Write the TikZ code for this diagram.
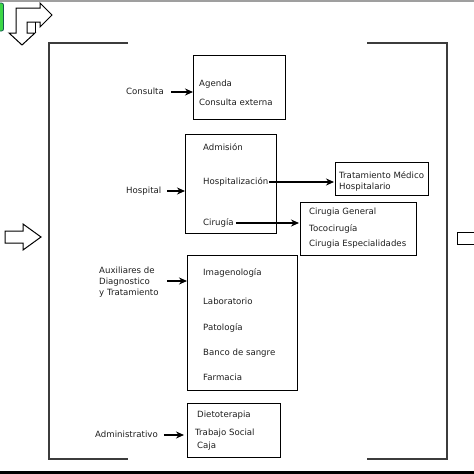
\documentclass[tikz,border=0pt]{standalone}
\usepackage{fontspec}
\setmainfont{DejaVu Sans}
\usetikzlibrary{arrows.meta}
\definecolor{txt}{RGB}{30,30,30}
\definecolor{brk}{RGB}{60,60,60}
\definecolor{grn}{RGB}{60,215,70}
\definecolor{grnb}{RGB}{20,90,80}
\tikzset{
  lbl/.style={anchor=west,inner sep=0pt,font=\fontsize{8.6}{10.5}\selectfont,text=txt,text height=6.3pt,text depth=1.7pt},
  boxn/.style={draw=black,line width=1.2pt,inner sep=0pt,anchor=north west},
  arr/.style={-{Stealth[length=8pt,width=7pt]},line width=1.2pt,black},
  brkl/.style={draw=brk,line width=1.4pt},
  blockarrow/.style={draw=black,line width=1pt,fill=white,line join=miter}
}
\begin{document}
\begin{tikzpicture}[x=1pt,y=-1pt]
\useasboundingbox (0,0) rectangle (474,474);
\clip (0,0) rectangle (474,474);
% top gray band and bottom black band
\fill[gray!75] (0,0) rectangle (474,2);
\fill[black] (0,471) rectangle (474,474);
% green tab
\draw[fill=grn,draw=grnb,line width=0.8pt,rounded corners=2pt] (-5,3) rectangle (3.5,31);
% bent arrow icon
\draw[blockarrow] (16,8) -- (40,8) -- (40,3) -- (52,15) -- (40,27) -- (40,22) -- (27,22) -- (27,33) -- (35,33) -- (22,45) -- (9,33) -- (16,33) -- cycle;
\draw[black,line width=1pt] (35,22) -- (35,33);
% left block arrow
\draw[blockarrow] (5,231) -- (23,231) -- (23,224) -- (41,237) -- (23,250) -- (23,243) -- (5,243) -- cycle;
% right partial block
\draw[blockarrow] (457,232) rectangle (480,244);
% brackets
\draw[brkl] (128,43) -- (49,43) -- (49,459) -- (128,459);
\draw[brkl] (367,43) -- (447,43) -- (447,459) -- (367,459);

% boxes
\node[boxn,minimum width=92pt,minimum height=64pt] (bcons) at (193,55) {};
\node[boxn,minimum width=91pt,minimum height=99pt] (bhosp) at (185,134) {};
\node[boxn,minimum width=93pt,minimum height=33pt] (btrat) at (335,162) {};
\node[boxn,minimum width=116pt,minimum height=53pt] (bcir) at (300,202) {};
\node[boxn,minimum width=110pt,minimum height=135pt] (baux) at (187,255) {};
\node[boxn,minimum width=93pt,minimum height=54pt] (badm) at (187,403) {};

% box contents
\node[lbl] (agenda) at (199,84) {Agenda};
\node[lbl] (cext) at (199,103) {Consulta externa};
\node[lbl] (adm) at (203,148) {Admisión};
\node[lbl] (hosz) at (203,182) {Hospitalización};
\node[lbl] (ciru) at (203,223) {Cirugía};
\node[lbl] (trat1) at (339,176) {Tratamiento Médico};
\node[lbl] (trat2) at (339,187) {Hospitalario};
\node[lbl] (cg) at (309,212) {Cirugia General};
\node[lbl] (toco) at (309,229) {Tococirugía};
\node[lbl] (cesp) at (309,244) {Cirugia Especialidades};
\node[lbl] (imag) at (203,273) {Imagenología};
\node[lbl] (lab) at (203,302) {Laboratorio};
\node[lbl] (pat) at (203,328) {Patología};
\node[lbl] (banco) at (203,353) {Banco de sangre};
\node[lbl] (farm) at (203,378) {Farmacia};
\node[lbl] (diet) at (197,415) {Dietoterapia};
\node[lbl] (trab) at (195,433) {Trabajo Social};
\node[lbl] (caja) at (197,446) {Caja};

% side labels
\node[lbl] (lcons) at (126,92) {Consulta};
\node[lbl] (lhosp) at (126,191) {Hospital};
\node[lbl] (laux1) at (99,271) {Auxiliares de};
\node[lbl] (laux2) at (99,282) {Diagnostico};
\node[lbl] (laux3) at (99,293) {y Tratamiento};
\node[lbl] (ladm) at (95,435) {Administrativo};

% connectors
\draw[arr] ([xshift=7pt]lcons.east) -- (bcons.west |- lcons.east);
\draw[arr] ([xshift=6pt]lhosp.east) -- (bhosp.west |- lhosp.east);
\draw[arr] (167,281) coordinate (auxs) -- (baux.west |- auxs);
\draw[arr] ([xshift=6pt]ladm.east) -- ([xshift=-3pt]badm.west |- ladm.east);
\draw[arr] ([xshift=1pt]hosz.east) -- ([xshift=-1pt]btrat.west |- hosz.east);
\draw[arr] ([xshift=2pt]ciru.east) -- ([xshift=-1pt]bcir.west |- ciru.east);
\end{tikzpicture}
\end{document}
